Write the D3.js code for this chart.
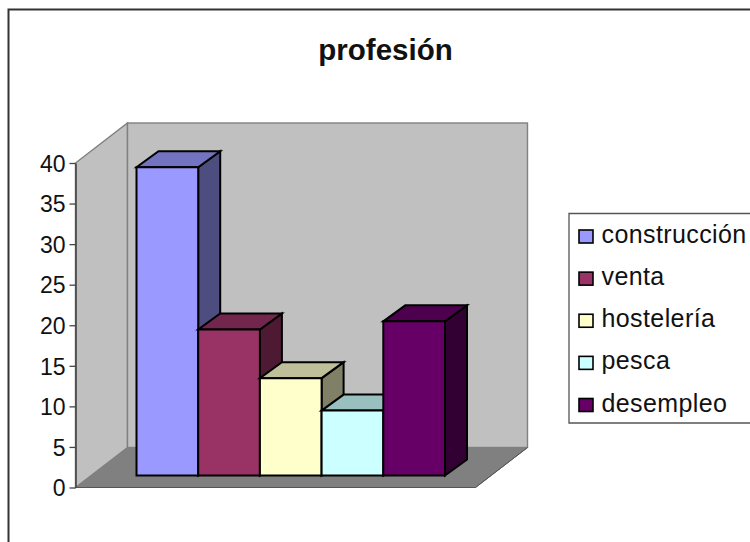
<!DOCTYPE html>
<html>
<head>
<meta charset="utf-8">
<style>
html,body{margin:0;padding:0;background:#fff}
svg{display:block}
text{font-family:"Liberation Sans",Arial,sans-serif;fill:#111}
</style>
<script src="https://cdn.jsdelivr.net/npm/d3@7"></script>
</head>
<body>
<svg id="chart" width="750" height="542"></svg>
<script>
const categories = ["construcción", "venta", "hostelería", "pesca", "desempleo"];
const values = [38, 18, 12, 8, 19];
const frontColors = ["#9999ff", "#993366", "#ffffcc", "#ccffff", "#660066"];
const topColors = ["#7373bf", "#73264d", "#bfbf99", "#99bfbf", "#4d004d"];
const sideColors = ["#4d4d80", "#4d1933", "#808066", "#668080", "#330033"];
const yTicks = [0, 5, 10, 15, 20, 25, 30, 35, 40];
const chartTitle = "profesión";

const svg = d3.select("#chart");
const y = d3.scaleLinear().domain([0, 40]).range([487.5, 163]);
const x = d3.scaleBand().domain(categories).range([136.5, 445]).padding(0);

// oblique projection offsets for the box depth
const wall = {left: 75.5, right: 475.5, dx: 52, dy: -40};
const barDepth = {dx: 22, dy: -16};
const barBase = {dx: 0, dy: -12};
const path = pts => "M" + pts.map(p => p.join(",")).join("L") + "Z";

// outer frame runs off the right and bottom of the page
svg.append("path")
  .attr("d", "M8.5,542V9.5H750")
  .attr("fill", "none").attr("stroke", "#333").attr("stroke-width", 2);

svg.append("text").attr("x", 385.5).attr("y", 60)
  .attr("text-anchor", "middle").attr("font-weight", "bold").attr("font-size", 29.5)
  .text(chartTitle);

const y0 = y(0), yMax = y(40);
// floor
svg.append("path")
  .attr("d", path([[wall.left, y0], [wall.right, y0], [wall.right + wall.dx, y0 + wall.dy], [wall.left + wall.dx, y0 + wall.dy]]))
  .attr("fill", "#808080").attr("stroke", "#666").attr("stroke-width", 1);
// side wall
svg.append("path")
  .attr("d", path([[wall.left, y0], [wall.left + wall.dx, y0 + wall.dy], [wall.left + wall.dx, yMax + wall.dy], [wall.left, yMax]]))
  .attr("fill", "#c0c0c0").attr("stroke", "#808080").attr("stroke-width", 1.4);
// back wall
svg.append("rect")
  .attr("x", wall.left + wall.dx).attr("y", yMax + wall.dy)
  .attr("width", wall.right - wall.left).attr("height", y0 - yMax)
  .attr("fill", "#c0c0c0").attr("stroke", "#808080").attr("stroke-width", 1.4);

// front edge of the floor
svg.append("path").attr("d", `M${wall.left},${y0}H${wall.right}L${wall.right + wall.dx},${y0 + wall.dy}`)
  .attr("fill", "none").attr("stroke", "#555").attr("stroke-width", 1);

// value axis
const axis = svg.append("g").attr("transform", `translate(${wall.left},0)`)
  .call(d3.axisLeft(y).tickValues(yTicks).tickSize(6).tickPadding(4).tickSizeOuter(0));
axis.select(".domain").attr("stroke", "#444").attr("stroke-width", 1.6);
axis.selectAll(".tick line").attr("stroke", "#444").attr("stroke-width", 1.3);
axis.selectAll(".tick text").attr("font-family", '"Liberation Sans",Arial,sans-serif')
  .attr("font-size", 23).attr("fill", "#111").attr("dy", "0.36em");

// columns, drawn left to right so that each front overlaps its neighbour's side
const bars = svg.append("g").attr("stroke", "#000").attr("stroke-width", 2).attr("stroke-linejoin", "miter");
categories.forEach((c, i) => {
  const x0 = x(c), x1 = x0 + x.bandwidth();
  const base = y0 + barBase.dy, top = y(values[i]) + barBase.dy;
  const d = barDepth;
  bars.append("path").attr("d", path([[x1, base], [x1 + d.dx, base + d.dy], [x1 + d.dx, top + d.dy], [x1, top]])).attr("fill", sideColors[i]);
  bars.append("path").attr("d", path([[x0, top], [x1, top], [x1 + d.dx, top + d.dy], [x0 + d.dx, top + d.dy]])).attr("fill", topColors[i]);
  bars.append("path").attr("d", path([[x0, base], [x1, base], [x1, top], [x0, top]])).attr("fill", frontColors[i]);
});

// legend box, open on the page edge
const legend = svg.append("g");
legend.append("path").attr("d", "M750,213.5H569V423H750")
  .attr("fill", "#fff").attr("stroke", "#555").attr("stroke-width", 1.3);
const rowY = d3.scalePoint().domain(categories).range([236, 404.5]);
categories.forEach((c, i) => {
  const cy = rowY(c);
  legend.append("rect").attr("x", 579).attr("y", cy - 6).attr("width", 14).attr("height", 13)
    .attr("fill", frontColors[i]).attr("stroke", "#000").attr("stroke-width", 1.6);
  legend.append("text").attr("x", 601.5).attr("y", cy + 7).attr("font-size", 25)
    .attr("letter-spacing", 0.4).text(c);
});
</script>
</body>
</html>
